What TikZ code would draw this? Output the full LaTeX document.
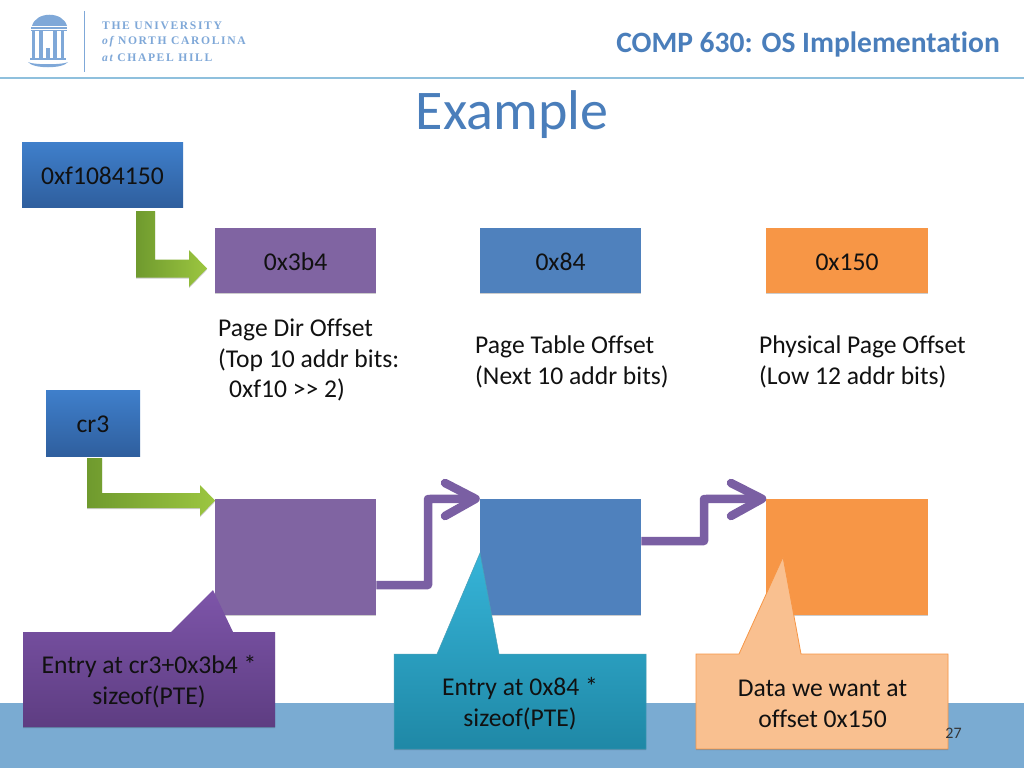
\documentclass[tikz,border=0pt]{standalone}
\usepackage{fontspec}
\setmainfont{Carlito}[Ligatures=NoCommon]
\newfontfamily\logofont[LetterSpace=14]{Liberation Serif}
\usetikzlibrary{shadows,calc}
\definecolor{ink}{HTML}{111111}
\definecolor{hdrblue}{HTML}{4A7EBB}
\definecolor{band}{HTML}{7AABD2}
\definecolor{rule}{HTML}{8FC0DD}
\definecolor{logoblue}{HTML}{7FA8D8}
\definecolor{boxpurple}{HTML}{8064A2}
\definecolor{boxblue}{HTML}{4F81BD}
\definecolor{boxorange}{HTML}{F79646}
\definecolor{arrowpurple}{HTML}{7A5FA3}
\definecolor{greendark}{HTML}{6F9A2E}
\definecolor{greenlight}{HTML}{9CC640}
\definecolor{regtop}{HTML}{3F7FCB}
\definecolor{regbot}{HTML}{2F5F9E}
\definecolor{purpletop}{HTML}{7D55A9}
\definecolor{purplebot}{HTML}{5E3D82}
\definecolor{tealtop}{HTML}{36B4D8}
\definecolor{tealbot}{HTML}{1F88A6}
\definecolor{peach}{HTML}{F9C090}
\tikzset{
  softshadow/.style={drop shadow={shadow xshift=0pt,shadow yshift=-1.2pt,opacity=.2,fill=black}},
  bodytext/.style={font=\fontsize{25.6}{30.8}\selectfont,text=ink},
  evenline/.style={text height=20pt,text depth=1pt},
  regbox/.style={bodytext,evenline,softshadow,inner sep=0pt,top color=regtop,bottom color=regbot},
  flatbox/.style={bodytext,evenline,softshadow,fill=#1,inner sep=0pt,minimum width=161.5pt},
  label/.style={bodytext,anchor=west,align=left,inner sep=0pt},
  calltext/.style={bodytext,align=center,inner sep=0pt},
  elbow/.style={draw=arrowpurple,line width=8.5pt,line cap=round,line join=round},
  greenarrow/.style={left color=greendark,right color=greenlight,softshadow},
  logotext/.style={anchor=west,inner sep=0pt,text=logoblue,font=\logofont\bfseries\fontsize{11.6}{13}\selectfont}
}
\begin{document}
\begin{tikzpicture}[x=1pt,y=-1pt]
\useasboundingbox (0,0) rectangle (1024,768);
\fill[white] (0,0) rectangle (1024,768);
% footer band and header rule
\fill[band] (0,703) rectangle (1024,768);
\draw[rule,line width=1.2pt] (0,78) -- (1024,78);
% logo
\fill[logoblue] (32,26) .. controls (36,11) and (63,11) .. (67,26) -- cycle;
\draw[logoblue,line width=1.3pt] (31,28) -- (67,28) (31,30.5) -- (67,30.5);
\foreach \lx/\rx in {32/35,39/43,53/57,61/64}{\fill[logoblue] (\lx,31) rectangle (\rx,58);}
\fill[logoblue] (46,48) rectangle (50,58);
\fill[logoblue] (30,58) rectangle (66,60);
\fill[logoblue] (28,62) .. controls (33,69) and (63,69) .. (68,62) .. controls (63,65) and (33,65) .. (28,62) -- cycle;
\draw[logoblue,line width=.7pt] (84,11) -- (84,72);
\node[logotext] (logoa) at (102,26) {THE UNIVERSITY};
\node[logotext] (logob) at (102,42) {{\itshape of} NORTH CAROLINA};
\node[logotext] (logoc) at (102,58) {{\itshape at} CHAPEL HILL};
% header
\node[anchor=east,inner sep=0pt,text=hdrblue,font=\bfseries\fontsize{29.5}{32}\selectfont] (course) at (1000,44) {COMP 630: OS Implementation};
\node[inner sep=0pt,text=hdrblue,font=\fontsize{56}{60}\selectfont] (title) at (512,115) {Example};
% registers
\node[regbox,minimum width=161pt,minimum height=65pt] (addr) at (102.5,174.5) {0xf1084150};
\node[regbox,minimum width=94pt,minimum height=66pt] (cr) at (93,423) {cr3};
% top row
\node[flatbox=boxpurple,minimum height=65pt] (dir) at (295.5,260.5) {0x3b4};
\node[flatbox=boxblue,minimum height=65pt] (tbl) at (560.5,260.5) {0x84};
\node[flatbox=boxorange,minimum height=65pt] (off) at (847,260.5) {0x150};
% descriptions
\node[label] (dirnote) at (218,360) {Page Dir Offset\\(Top 10 addr bits:\\\hspace*{11pt}0xf10 >{}> 2)};
\node[label] (tblnote) at (475,361.5) {Page Table Offset\\(Next 10 addr bits)};
\node[label] (offnote) at (759,361.5) {Physical Page Offset\\(Low 12 addr bits)};
% lower row
\node[flatbox=boxpurple,minimum height=116pt] (dirent) at (295.5,557) {};
\node[flatbox=boxblue,minimum height=116pt] (tblent) at (560.5,557) {};
\node[flatbox=boxorange,minimum height=116pt] (data) at (847,557) {};
% green block arrows
\path[greenarrow] (136,211) -- (155,211) -- (155,259.5) -- (189,259.5) -- (189,250) -- (207,268.5) -- (189,287) -- (189,277.5) -- (136,277.5) -- cycle;
\path[greenarrow] (87,458) -- (102,458) -- (102,493) -- (200,493) -- (200,485) -- (215,500.5) -- (200,516) -- (200,508) -- (87,508) -- cycle;
% purple elbow connectors
\coordinate (tipa) at ($(tblent.north west)+(-4,0)$);
\coordinate (tipb) at ($(data.north west)+(-4,0)$);
\coordinate (benda) at (428,499);
\coordinate (bendb) at (704,499);
\coordinate (winga) at (445,483);
\coordinate (wingb) at (445,516);
\coordinate (wingc) at (731,483);
\coordinate (wingd) at (731,516);
\draw[elbow,line cap=butt] ($(dirent.east)+(0,28)$) -| (benda) -- (tipa);
\draw[elbow] (winga) -- (tipa) -- (wingb);
\draw[elbow,line cap=butt] ($(tblent.east)+(0,-16)$) -| (bendb) -- (tipb);
\draw[elbow] (wingc) -- (tipb) -- (wingd);
% callouts
\path[softshadow,top color=purpletop,bottom color=purplebot] (23,632) -- (171,632) -- (213,590) -- (233,632) -- (275,632) -- (275,727) -- (23,727) -- cycle;
\node[calltext] (callA) at (149,681.5) {Entry at cr3+0x3b4 *\\sizeof(PTE)};
\path[softshadow,draw=tealbot!80!white,line width=.5pt,top color=tealtop,bottom color=tealbot] (394,654) -- (437,654) -- (480,553) -- (499,654) -- (646,654) -- (646,749) -- (394,749) -- cycle;
\node[calltext] (callB) at (520,703.5) {Entry at 0x84 *\\sizeof(PTE)};
\path[softshadow,draw=boxorange,line width=.8pt,fill=peach] (696,654) -- (739,654) -- (783,557) -- (801,654) -- (948,654) -- (948,749) -- (696,749) -- cycle;
\node[calltext] (callC) at (822.5,703.5) {Data we want at\\offset 0x150};
% page number
\node[inner sep=0pt,text=ink!85!white,font=\fontsize{16}{18}\selectfont] (pageno) at (953.5,733) {27};
\end{tikzpicture}
\end{document}
